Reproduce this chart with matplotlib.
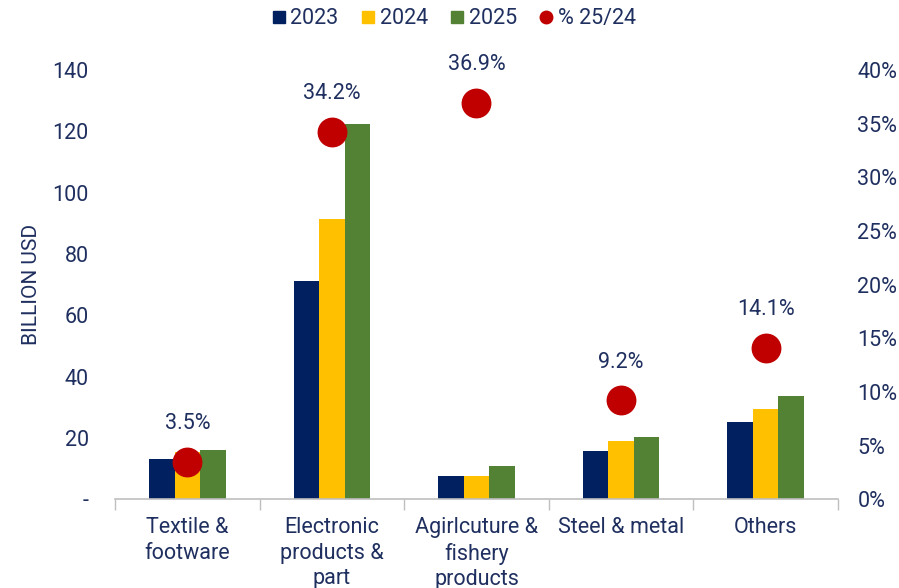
import numpy as np
import matplotlib.pyplot as plt
from matplotlib.ticker import FixedLocator, FuncFormatter
from matplotlib.lines import Line2D

plt.rcParams['font.family'] = ['Roboto', 'DejaVu Sans']

# data
categories = ['Textile &\nfootware', 'Electronic\nproducts &\npart',
              'Agirlcuture &\nfishery\nproducts', 'Steel & metal', 'Others']
v2023 = [13.1, 71.1, 7.5, 15.7, 25.1]
v2024 = [15.3, 91.4, 7.5, 18.9, 29.4]
v2025 = [16.0, 122.4, 10.8, 20.2, 33.6]
pct_25_24 = [3.5, 34.2, 36.9, 9.2, 14.1]

navy = '#002060'
yellow = '#FFC000'
green = '#548235'
red = '#C00000'
txt = '#1F2F5F'
fs = 15.5

fig = plt.figure(figsize=(8.99, 5.88), dpi=100)
ax = fig.add_axes([0.128, 0.151, 0.804, 0.730])
ax2 = ax.twinx()

x = np.arange(len(categories))
w = 0.176
ax.bar(x - w, v2023, w, color=navy, label='2023')
ax.bar(x, v2024, w, color=yellow, label='2024')
ax.bar(x + w, v2025, w, color=green, label='2025')

ax2.scatter(x, pct_25_24, s=420, color=red, zorder=5, label='% 25/24')
for xi, p in zip(x, pct_25_24):
    ax2.annotate(f'{p:.1f}%', (xi, p), xytext=(0, 20), textcoords='offset points',
                 ha='center', va='bottom', fontsize=fs, color=txt)

ax.set_xlim(-0.5, len(categories) - 0.5)
ax.set_ylim(0, 140)
ax2.set_ylim(0, 40)
ax.set_zorder(ax2.get_zorder() - 1)
ax.patch.set_visible(False)

ax.set_yticks(np.arange(0, 141, 20))
ax.yaxis.set_major_formatter(FuncFormatter(lambda v, _: '-' if v == 0 else f'{v:.0f}'))
ax2.set_yticks(np.arange(0, 41, 5))
ax2.yaxis.set_major_formatter(FuncFormatter(lambda v, _: f'{v:.0f}%'))

ax.set_xticks(x)
ax.set_xticklabels(categories, linespacing=1.27)
ax.xaxis.set_minor_locator(FixedLocator(np.arange(-0.5, len(categories), 1.0)))
ax.tick_params(axis='x', which='major', length=0, pad=13, labelsize=fs, labelcolor=txt)
ax.tick_params(axis='x', which='minor', length=8, color='#BFBFBF', width=1)
ax.tick_params(axis='y', length=0, pad=19, labelsize=fs, labelcolor=txt)
ax2.tick_params(axis='y', length=0, pad=14, labelsize=fs, labelcolor=txt)

for a in (ax, ax2):
    for s in ('top', 'left', 'right'):
        a.spines[s].set_visible(False)
ax2.spines['bottom'].set_visible(False)
ax.spines['bottom'].set_color('#BFBFBF')
ax.spines['bottom'].set_linewidth(1.2)

ax.set_ylabel('BILLION USD', fontsize=15, color=txt, labelpad=8)

handles = [
    Line2D([], [], marker='s', ls='', color=navy, markersize=9),
    Line2D([], [], marker='s', ls='', color=yellow, markersize=9),
    Line2D([], [], marker='s', ls='', color=green, markersize=9),
    Line2D([], [], marker='o', ls='', color=red, markersize=9),
]
fig.legend(handles, ['2023', '2024', '2025', '% 25/24'], loc='center',
           bbox_to_anchor=(0.503, 0.968), ncol=4, frameon=False, fontsize=fs,
           handletextpad=0.1, columnspacing=0.9, handlelength=0.9, labelcolor=txt)

fig.savefig('out.png', dpi=100)
